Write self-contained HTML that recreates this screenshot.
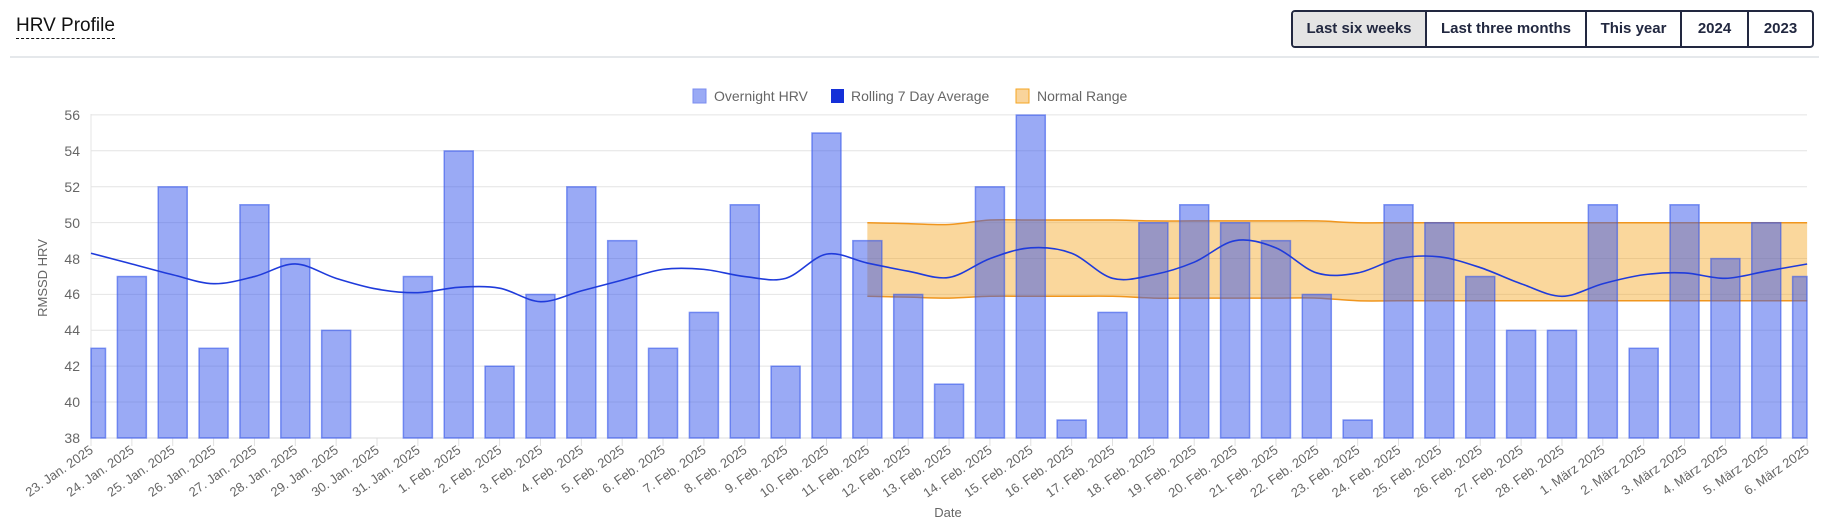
<!DOCTYPE html>
<html><head><meta charset="utf-8"><style>
html,body{margin:0;padding:0;background:#fff;width:1833px;height:521px;overflow:hidden;font-family:"Liberation Sans",sans-serif;}
.title{position:absolute;left:16px;top:14px;font-size:19px;color:#111;border-bottom:1.5px dashed #111;line-height:23px;padding-bottom:1px}
.sep{position:absolute;left:10px;top:56px;width:1809px;height:2px;background:#e5e8eb}
.btns{position:absolute;left:1291px;top:10px;height:38px;display:flex;border:2px solid #222840;border-radius:4px;box-sizing:border-box;overflow:hidden}
.btns div{font-size:15px;font-weight:bold;color:#222840;line-height:34px;text-align:center;box-sizing:border-box;border-left:2px solid #222840}
.btns div:first-child{border-left:none;background:#e4e4e4}
svg{position:absolute;left:0;top:0}
</style></head><body>
<div class="title">HRV Profile</div>
<div class="btns">
<div style="width:132px">Last six weeks</div>
<div style="width:160px">Last three months</div>
<div style="width:95px">This year</div>
<div style="width:67px">2024</div>
<div style="width:65px">2023</div>
</div>
<div class="sep"></div>
<svg width="1833" height="521" xmlns="http://www.w3.org/2000/svg" font-family="Liberation Sans, sans-serif">
<g stroke="#e4e4e4" stroke-width="1">
<line x1="91" x2="1807" y1="114.9" y2="114.9"/>
<line x1="91" x2="1807" y1="150.8" y2="150.8"/>
<line x1="91" x2="1807" y1="186.7" y2="186.7"/>
<line x1="91" x2="1807" y1="222.6" y2="222.6"/>
<line x1="91" x2="1807" y1="258.5" y2="258.5"/>
<line x1="91" x2="1807" y1="294.4" y2="294.4"/>
<line x1="91" x2="1807" y1="330.2" y2="330.2"/>
<line x1="91" x2="1807" y1="366.1" y2="366.1"/>
<line x1="91" x2="1807" y1="402" y2="402"/>
<line x1="91" x2="91" y1="114" y2="446"/>
</g>
<g id="ticks" stroke="#e0e0e0"></g>
<line x1="91" x2="1807" y1="438" y2="438" stroke="#ddd"/>
<g font-size="14" fill="#666" text-anchor="end">
<text x="80" y="120">56</text><text x="80" y="156">54</text><text x="80" y="192">52</text><text x="80" y="228">50</text><text x="80" y="264">48</text><text x="80" y="299">46</text><text x="80" y="335">44</text><text x="80" y="371">42</text><text x="80" y="407">40</text><text x="80" y="443">38</text>
</g>
<text transform="translate(47,278) rotate(-90)" font-size="13" fill="#666" text-anchor="middle">RMSSD HRV</text>
<text x="948" y="517" font-size="13" fill="#666" text-anchor="middle">Date</text>
<path id="band" fill="rgba(245,166,35,0.45)" stroke="none"/>
<path id="bandU" fill="none" stroke="#f0961e" stroke-width="1.5"/>
<path id="bandL" fill="none" stroke="#f0961e" stroke-width="1.5"/>
<g id="bars"></g>
<path id="avg" fill="none" stroke="#1f3bdb" stroke-width="1.6"/>
<g font-size="14" fill="#666">
<rect x="693" y="89" width="13" height="14" fill="rgba(54,86,235,0.5)" stroke="#7b8cf0"/>
<text x="714" y="101">Overnight HRV</text>
<rect x="831" y="89" width="13" height="14" fill="#1530d8"/>
<text x="851" y="101">Rolling 7 Day Average</text>
<rect x="1016" y="89" width="13" height="14" fill="#f9d49b" stroke="#f5a623"/>
<text x="1037" y="101">Normal Range</text>
</g>
<g font-size="13" fill="#666" text-anchor="end">
<text transform="translate(94,452) rotate(-35)">23. Jan. 2025</text>
<text transform="translate(134.9,452) rotate(-35)">24. Jan. 2025</text>
<text transform="translate(175.7,452) rotate(-35)">25. Jan. 2025</text>
<text transform="translate(216.6,452) rotate(-35)">26. Jan. 2025</text>
<text transform="translate(257.4,452) rotate(-35)">27. Jan. 2025</text>
<text transform="translate(298.3,452) rotate(-35)">28. Jan. 2025</text>
<text transform="translate(339.2,452) rotate(-35)">29. Jan. 2025</text>
<text transform="translate(380,452) rotate(-35)">30. Jan. 2025</text>
<text transform="translate(420.9,452) rotate(-35)">31. Jan. 2025</text>
<text transform="translate(461.7,452) rotate(-35)">1. Feb. 2025</text>
<text transform="translate(502.6,452) rotate(-35)">2. Feb. 2025</text>
<text transform="translate(543.5,452) rotate(-35)">3. Feb. 2025</text>
<text transform="translate(584.3,452) rotate(-35)">4. Feb. 2025</text>
<text transform="translate(625.2,452) rotate(-35)">5. Feb. 2025</text>
<text transform="translate(666,452) rotate(-35)">6. Feb. 2025</text>
<text transform="translate(706.9,452) rotate(-35)">7. Feb. 2025</text>
<text transform="translate(747.8,452) rotate(-35)">8. Feb. 2025</text>
<text transform="translate(788.6,452) rotate(-35)">9. Feb. 2025</text>
<text transform="translate(829.5,452) rotate(-35)">10. Feb. 2025</text>
<text transform="translate(870.3,452) rotate(-35)">11. Feb. 2025</text>
<text transform="translate(911.2,452) rotate(-35)">12. Feb. 2025</text>
<text transform="translate(952.1,452) rotate(-35)">13. Feb. 2025</text>
<text transform="translate(992.9,452) rotate(-35)">14. Feb. 2025</text>
<text transform="translate(1033.8,452) rotate(-35)">15. Feb. 2025</text>
<text transform="translate(1074.6,452) rotate(-35)">16. Feb. 2025</text>
<text transform="translate(1115.5,452) rotate(-35)">17. Feb. 2025</text>
<text transform="translate(1156.4,452) rotate(-35)">18. Feb. 2025</text>
<text transform="translate(1197.2,452) rotate(-35)">19. Feb. 2025</text>
<text transform="translate(1238.1,452) rotate(-35)">20. Feb. 2025</text>
<text transform="translate(1278.9,452) rotate(-35)">21. Feb. 2025</text>
<text transform="translate(1319.8,452) rotate(-35)">22. Feb. 2025</text>
<text transform="translate(1360.7,452) rotate(-35)">23. Feb. 2025</text>
<text transform="translate(1401.5,452) rotate(-35)">24. Feb. 2025</text>
<text transform="translate(1442.4,452) rotate(-35)">25. Feb. 2025</text>
<text transform="translate(1483.2,452) rotate(-35)">26. Feb. 2025</text>
<text transform="translate(1524.1,452) rotate(-35)">27. Feb. 2025</text>
<text transform="translate(1565,452) rotate(-35)">28. Feb. 2025</text>
<text transform="translate(1605.8,452) rotate(-35)">1. März 2025</text>
<text transform="translate(1646.7,452) rotate(-35)">2. März 2025</text>
<text transform="translate(1687.5,452) rotate(-35)">3. März 2025</text>
<text transform="translate(1728.4,452) rotate(-35)">4. März 2025</text>
<text transform="translate(1769.3,452) rotate(-35)">5. März 2025</text>
<text transform="translate(1810.1,452) rotate(-35)">6. März 2025</text>
</g>
</svg>
<script>
var NS="http://www.w3.org/2000/svg";
var vals=[43,47,52,43,51,48,44,null,47,54,42,46,52,49,43,45,51,42,55,49,46,41,52,56,39,45,50,51,50,49,46,39,51,50,47,44,44,51,43,51,48,50,47];
var avg=[48.3,47.7,47.1,46.6,47.0,47.7,46.9,46.3,46.1,46.4,46.35,45.6,46.2,46.8,47.4,47.4,47.0,46.9,48.25,47.75,47.3,46.95,48.0,48.6,48.3,46.9,47.1,47.8,49.0,48.6,47.2,47.2,48.0,48.1,47.5,46.6,45.9,46.6,47.1,47.2,46.9,47.3,47.7];
var up=[],lo=[];
for(var i=19;i<43;i++){var t=i-19;up.push(i<22?50.0-0.05*t:(i<26?50.15:(i<31?50.1:50.0)));lo.push(i<22?45.9-0.05*t:(i<26?45.9:(i<31?45.8:45.65)));}
function X(i){return 91+40.86*i;}
function Y(v){return 438-(v-38)*17.94;}
var bars=document.getElementById('bars'),ticks=document.getElementById('ticks');
for(var i=0;i<43;i++){
 var l=document.createElementNS(NS,'line');l.setAttribute('x1',X(i));l.setAttribute('x2',X(i));l.setAttribute('y1',438);l.setAttribute('y2',446);ticks.appendChild(l);
 if(vals[i]==null)continue;
 var x0=X(i)-14.5,x1=X(i)+14.5;x0=Math.max(x0,91);x1=Math.min(x1,1807);
 var r=document.createElementNS(NS,'rect');r.setAttribute('x',x0);r.setAttribute('width',x1-x0);r.setAttribute('y',Y(vals[i]));r.setAttribute('height',438-Y(vals[i]));
 r.setAttribute('fill','rgba(54,86,235,0.5)');r.setAttribute('stroke','rgba(54,86,235,0.6)');r.setAttribute('stroke-width','1.5');bars.appendChild(r);
}
function smooth(pts){var d='M'+pts[0][0]+','+pts[0][1];for(var i=0;i<pts.length-1;i++){var p0=pts[i-1]||pts[i],p1=pts[i],p2=pts[i+1],p3=pts[i+2]||p2;
 d+=' C'+(p1[0]+(p2[0]-p0[0])/6)+','+(p1[1]+(p2[1]-p0[1])/6)+' '+(p2[0]-(p3[0]-p1[0])/6)+','+(p2[1]-(p3[1]-p1[1])/6)+' '+p2[0]+','+p2[1];}return d;}
var a=avg.map(function(v,i){return[X(i),Y(v)];});
document.getElementById('avg').setAttribute('d',smooth(a));
var U=up.map(function(v,k){return[X(k+19),Y(v)];}),L=lo.map(function(v,k){return[X(k+19),Y(v)];});
document.getElementById('bandU').setAttribute('d',smooth(U));
document.getElementById('bandL').setAttribute('d',smooth(L));
var Lr=L.slice().reverse();
document.getElementById('band').setAttribute('d',smooth(U)+' L'+Lr[0][0]+','+Lr[0][1]+smooth(Lr).slice(1).replace(/^[^C]*/,' ')+' Z');
</script>
</body></html>
